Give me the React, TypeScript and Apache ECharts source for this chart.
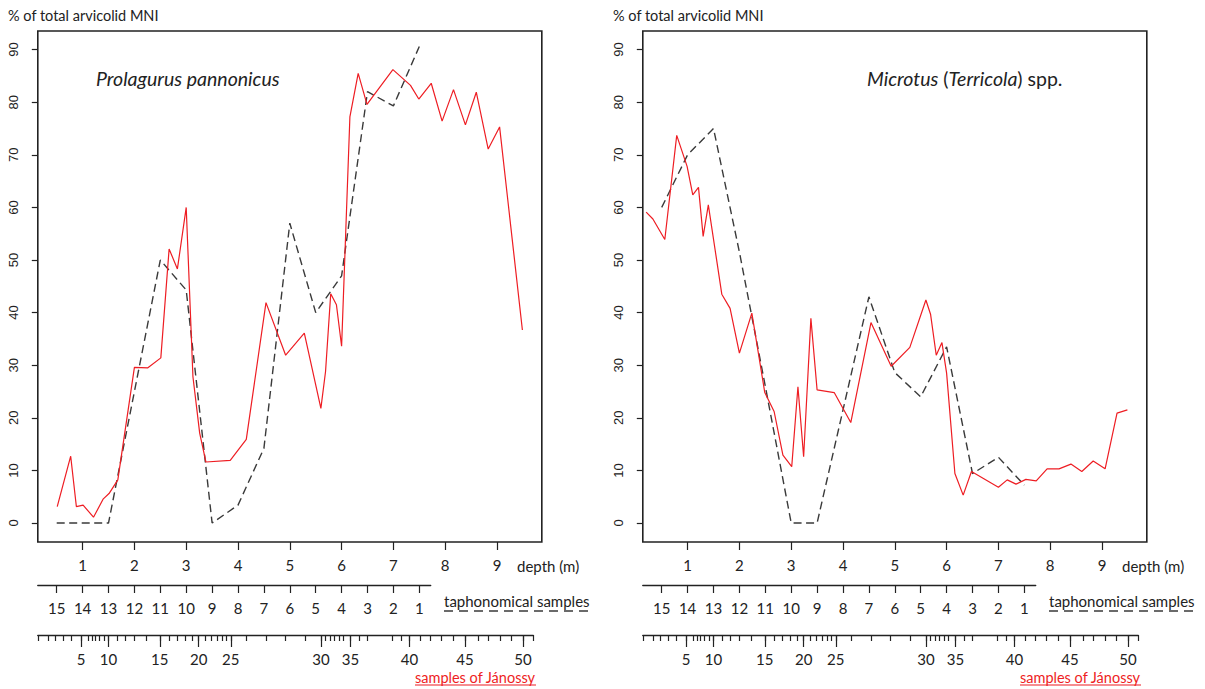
import React, { useEffect, useRef } from "react";
import * as echarts from "echarts";

// ---------- data ----------
const depthTicks = [1, 2, 3, 4, 5, 6, 7, 8, 9];
const yTicks = [0, 10, 20, 30, 40, 50, 60, 70, 80, 90];

const taphDepths = [0.5, 1, 1.5, 2, 2.5, 3, 3.5, 4, 4.5, 5, 5.5, 6, 6.5, 7, 7.5];
const taphLabels = ["15", "14", "13", "12", "11", "10", "9", "8", "7", "6", "5", "4", "3", "2", "1"];

const janossyTickDepths = [
  0.145, 0.33, 0.48, 0.63, 0.79, 0.97, 1.1, 1.18, 1.25, 1.33, 1.41, 1.5, 1.66, 1.82, 2.0, 2.23,
  2.49, 2.67, 2.82, 2.98, 3.11, 3.24, 3.37, 3.49, 3.6, 3.7, 3.78, 3.86, 4.16, 4.55, 4.91, 5.29,
  5.6, 5.69, 5.78, 5.86, 5.95, 6.04, 6.17, 6.34, 6.49, 6.98, 7.16, 7.31, 7.51, 7.71, 7.93, 8.16,
  8.38, 8.63, 8.83, 9.06, 9.28, 9.5, 9.7,
];
const janossyLabelDepths = [0.97, 1.5, 2.49, 3.24, 3.86, 5.6, 6.17, 7.31, 8.38, 9.5];
const janossyLabels = ["5", "10", "15", "20", "25", "30", "35", "40", "45", "50"];

// Prolagurus pannonicus
const prolagurusJanossy: [number, number][] = [
  [0.51, 3.1], [0.77, 12.7], [0.88, 3.1], [1.01, 3.4], [1.21, 1.1], [1.4, 4.6], [1.51, 5.6],
  [1.68, 8.2], [2.0, 29.6], [2.26, 29.5], [2.51, 31.4], [2.67, 52.1], [2.83, 48.3], [3.0, 60.0],
  [3.13, 27.8], [3.26, 17.1], [3.38, 11.6], [3.85, 11.9], [4.16, 15.9], [4.54, 41.9], [4.92, 31.9],
  [5.28, 36.1], [5.6, 21.8], [5.69, 28.8], [5.79, 43.6], [5.9, 41.5], [6.0, 33.6], [6.16, 77.2],
  [6.32, 85.5], [6.49, 79.6], [6.99, 86.2], [7.33, 83.2], [7.49, 80.6], [7.73, 83.6], [7.94, 76.4],
  [8.16, 82.4], [8.39, 75.7], [8.6, 81.9], [8.83, 71.1], [9.05, 75.3], [9.49, 36.7],
];
const prolagurusTaph = [0, 0, 0, 25, 50, 44.3, 0, 3.4, 14.2, 57, 40, 47, 82, 79.3, 90.6];

// Microtus (Terricola) spp.
const terricolaJanossy: [number, number][] = [
  [0.2, 59.1], [0.33, 57.8], [0.56, 53.9], [0.79, 73.7], [0.99, 67.8], [1.1, 62.4], [1.21, 63.8],
  [1.3, 54.5], [1.4, 60.5], [1.66, 43.5], [1.82, 40.8], [2.0, 32.3], [2.24, 39.9], [2.49, 24.8],
  [2.67, 21.2], [2.84, 12.9], [3.01, 10.7], [3.13, 25.9], [3.24, 12.6], [3.38, 38.9], [3.5, 25.3],
  [3.83, 24.8], [4.15, 19.1], [4.54, 38.1], [4.93, 29.8], [5.29, 33.4], [5.6, 42.4], [5.69, 39.7],
  [5.8, 31.9], [5.91, 34.3], [6.0, 28.5], [6.16, 9.4], [6.32, 5.3], [6.48, 9.8], [7.0, 6.8],
  [7.17, 8.2], [7.34, 7.4], [7.53, 8.3], [7.73, 8.0], [7.94, 10.3], [8.17, 10.3], [8.4, 11.2],
  [8.61, 9.8], [8.83, 11.8], [9.06, 10.3], [9.29, 20.9], [9.49, 21.5],
];
const terricolaTaph = [60, 70, 75, 51.5, 26, 0, 0, 21.5, 43, 28.6, 24, 33.5, 9.4, 12.5, 7.2];

// ---------- styling / layout ----------
const RED = "#ee1d23";
const DASH = "#3a3a3a";
const INK = "#222222";
const FONT = "Lato, 'Open Sans', sans-serif";
const YFONT = "'Liberation Sans', Arial, sans-serif";

const XMIN = 0.135;
const XMAX = 9.865;
const PXM = 51.8;
const TAPH_MAX = 7.72;
const JAN_MAX = 9.7;
const YMIN = -3.61;
const YMAX = 93.54;

const PANEL_OFFSETS = [0, 605];
const MAIN_GRID_INDEX = [0, 3];

function labelFor(depths: number[], labels: string[]) {
  return (v: number) => {
    const i = depths.findIndex((d) => Math.abs(d - v) < 1e-6);
    return i >= 0 ? labels[i] : "";
  };
}

function buildOption() {
  const grids: any[] = [];
  const xAxes: any[] = [];
  const yAxes: any[] = [];
  const series: any[] = [];
  const graphics: any[] = [];

  const panels = [
    { red: prolagurusJanossy, taph: prolagurusTaph, title: "{i|Prolagurus pannonicus}", titleX: 96 },
    { red: terricolaJanossy, taph: terricolaTaph, title: "{i|Microtus} ({i|Terricola}) spp.", titleX: 867 },
  ];

  const tickStyle = { color: INK, width: 1.2 };

  panels.forEach((p, pi) => {
    const off = PANEL_OFFSETS[pi];
    const left = 37.8 + off;
    const W = (XMAX - XMIN) * PXM;

    // main plot
    const gMain = grids.length;
    grids.push({ left, top: 31, width: W, height: 511, show: true, borderColor: INK, borderWidth: 1.6, backgroundColor: "transparent" });
    const xMain = xAxes.length;
    xAxes.push({
      type: "value", gridIndex: gMain, min: XMIN, max: XMAX, position: "bottom",
      axisLine: { show: false, onZero: false }, splitLine: { show: false },
      axisTick: { show: true, inside: false, customValues: depthTicks, length: 8, lineStyle: tickStyle },
      axisLabel: { customValues: depthTicks, margin: 15, fontSize: 15, color: INK, fontFamily: FONT },
    });
    const yMain = yAxes.length;
    yAxes.push({
      type: "value", gridIndex: gMain, min: YMIN, max: YMAX, position: "left",
      axisLine: { show: false, onZero: false }, splitLine: { show: false },
      axisTick: { show: true, inside: false, customValues: yTicks, length: 6, lineStyle: tickStyle },
      axisLabel: { show: false },
    });

    // taphonomical samples axis
    const gT = grids.length;
    grids.push({ left, top: 584, width: (TAPH_MAX - XMIN) * PXM, height: 1 });
    xAxes.push({
      type: "value", gridIndex: gT, min: XMIN, max: TAPH_MAX, position: "bottom",
      axisLine: { show: true, onZero: false, lineStyle: { color: INK, width: 1.4 } }, splitLine: { show: false },
      axisTick: { show: true, customValues: taphDepths, length: 8, lineStyle: tickStyle },
      axisLabel: { customValues: taphDepths, formatter: labelFor(taphDepths, taphLabels), margin: 15, fontSize: 15, color: INK, fontFamily: FONT },
    });
    yAxes.push({ type: "value", gridIndex: gT, show: false });

    // samples of Jánossy axis
    const gJ = grids.length;
    grids.push({ left, top: 634, width: (JAN_MAX - XMIN) * PXM, height: 1 });
    xAxes.push({
      type: "value", gridIndex: gJ, min: XMIN, max: JAN_MAX, position: "bottom",
      axisLine: { show: true, onZero: false, lineStyle: { color: INK, width: 1.4 } }, splitLine: { show: false },
      axisTick: { show: true, customValues: janossyTickDepths, length: 6, lineStyle: tickStyle },
      axisLabel: { show: false },
    });
    xAxes.push({
      type: "value", gridIndex: gJ, min: XMIN, max: JAN_MAX, position: "bottom",
      axisLine: { show: false, onZero: false }, splitLine: { show: false },
      axisTick: { show: true, customValues: janossyLabelDepths, length: 12, lineStyle: tickStyle },
      axisLabel: { customValues: janossyLabelDepths, formatter: labelFor(janossyLabelDepths, janossyLabels), margin: 16, fontSize: 15, color: INK, fontFamily: FONT },
    });
    yAxes.push({ type: "value", gridIndex: gJ, show: false });

    // series
    series.push({
      type: "line", xAxisIndex: xMain, yAxisIndex: yMain, data: p.red, showSymbol: false, symbol: "none",
      lineStyle: { color: RED, width: 1.2 }, z: 3,
    });
    series.push({
      type: "line", xAxisIndex: xMain, yAxisIndex: yMain,
      data: taphDepths.map((d, i) => [d, p.taph[i]]), showSymbol: false, symbol: "none",
      lineStyle: { color: DASH, width: 1.4, type: [8, 4.5] }, z: 2,
    });

    // texts
    graphics.push({
      type: "text", x: 8 + off, y: 15,
      style: { text: "% of total arvicolid MNI", font: `14.5px ${FONT}`, fill: INK, textVerticalAlign: "middle" },
    });
    graphics.push({
      type: "text", x: p.titleX, y: 78,
      style: {
        text: p.title, font: `19.5px ${FONT}`, fill: INK, textVerticalAlign: "middle",
        rich: { i: { font: `italic 19.5px ${FONT}`, fill: INK } },
      },
    });
    graphics.push({
      type: "text", x: 517 + off, y: 566,
      style: { text: "depth (m)", font: `15px ${FONT}`, fill: INK, textVerticalAlign: "middle" },
    });
    graphics.push({
      type: "text", x: 444 + off, y: 601,
      style: { text: "taphonomical samples", font: `15px ${FONT}`, fill: INK, textVerticalAlign: "middle" },
    });
    graphics.push({
      type: "line", shape: { x1: 444 + off, y1: 611, x2: 589 + off, y2: 611 },
      style: { stroke: DASH, lineWidth: 1.3, lineDash: [9, 6] },
    });
    graphics.push({
      type: "text", x: 415 + off, y: 677,
      style: { text: "samples of Jánossy", font: `14.5px ${FONT}`, fill: RED, textVerticalAlign: "middle" },
    });
    graphics.push({
      type: "line", shape: { x1: 415 + off, y1: 685, x2: 536 + off, y2: 685 },
      style: { stroke: RED, lineWidth: 1.2 },
    });
  });

  return {
    option: {
      animation: false,
      backgroundColor: "#ffffff",
      grid: grids,
      xAxis: xAxes,
      yAxis: yAxes,
      series,
      graphic: { elements: graphics },
    },
    graphics,
  };
}

export default function App() {
  const ref = useRef<HTMLDivElement>(null);
  useEffect(() => {
    if (!ref.current) return;
    const chart = echarts.init(ref.current, null, { renderer: "svg" });
    const { option, graphics } = buildOption();
    chart.setOption(option as any);
    // rotated y tick labels (R style), positioned through the axis scale
    const yLabels: any[] = [];
    MAIN_GRID_INDEX.forEach((gi) => {
      yTicks.forEach((v) => {
        const pt = chart.convertToPixel({ gridIndex: gi } as any, [XMIN, v]) as number[];
        if (!pt) return;
        yLabels.push({
          type: "text", x: pt[0] - 24, y: pt[1], rotation: Math.PI / 2,
          style: { text: String(v), font: `13px ${YFONT}`, fill: INK, textAlign: "center", textVerticalAlign: "middle" },
        });
      });
    });
    chart.setOption({ graphic: { elements: [...graphics, ...yLabels] } } as any);
    return () => chart.dispose();
  }, []);
  return (
    <div
      ref={ref}
      style={{ position: "fixed", left: 0, top: 0, width: 1205, height: 689, background: "#fff" }}
    />
  );
}
